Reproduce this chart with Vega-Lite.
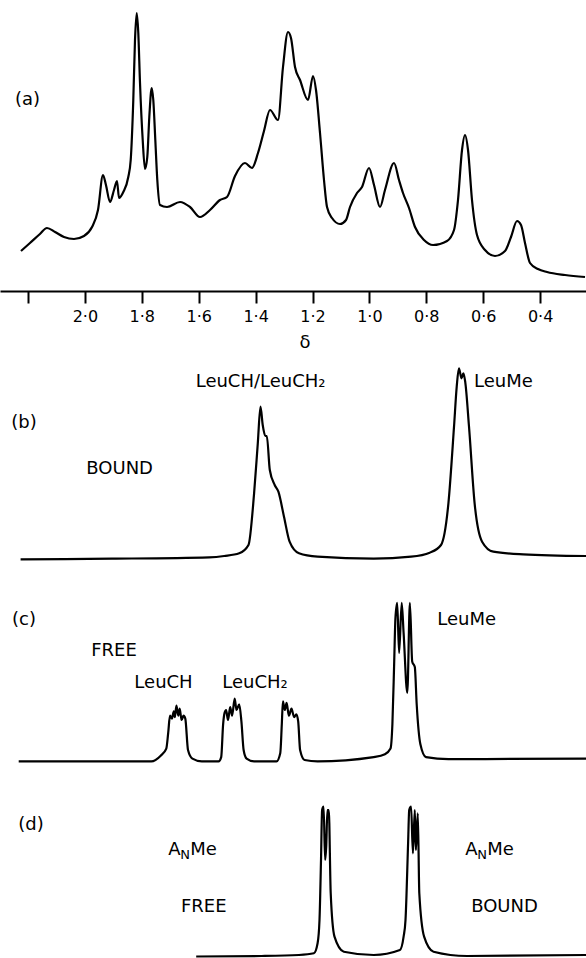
{
  "$schema": "https://vega.github.io/schema/vega-lite/v6.json",
  "padding": 0,
  "spacing": 0,
  "bounds": "flush",
  "background": "white",
  "config": {
    "view": {"stroke": null},
    "text": {"font": "DejaVu Sans", "fontSize": 18, "color": "black", "fill": "black", "baseline": "middle"},
    "line": {"color": "black", "strokeWidth": 2.2, "interpolate": "monotone"}
  },
  "resolve": {"scale": {"x": "independent", "y": "independent"}},
  "datasets": {
    "a": [
      {"d":2.2246,"i":40},{"d":2.193,"i":48},{"d":2.158,"i":57},{"d":2.1333,"i":63},{"d":2.105,"i":59},{"d":2.0735,"i":54},{"d":2.0383,"i":52},{"d":2.0032,"i":55},{"d":1.975,"i":64},{"d":1.954,"i":81},{"d":1.9364,"i":116},{"d":1.926,"i":106},{"d":1.9118,"i":89},{"d":1.8977,"i":101},{"d":1.8872,"i":110},{"d":1.88,"i":93},{"d":1.865,"i":99},{"d":1.8475,"i":114},{"d":1.839,"i":131},{"d":1.8299,"i":191},{"d":1.8239,"i":251},{"d":1.8179,"i":278},{"d":1.8123,"i":258},{"d":1.8063,"i":208},{"d":1.7968,"i":151},{"d":1.7888,"i":122},{"d":1.7807,"i":134},{"d":1.7736,"i":174},{"d":1.7652,"i":203},{"d":1.7596,"i":191},{"d":1.7525,"i":151},{"d":1.7455,"i":111},{"d":1.736,"i":86},{"d":1.7114,"i":84},{"d":1.6657,"i":89},{"d":1.6306,"i":84},{"d":1.5954,"i":74},{"d":1.5603,"i":81},{"d":1.5251,"i":91},{"d":1.5005,"i":94},{"d":1.4724,"i":115},{"d":1.4373,"i":128},{"d":1.4127,"i":123},{"d":1.3916,"i":138},{"d":1.3705,"i":160},{"d":1.3494,"i":181},{"d":1.3213,"i":171},{"d":1.3037,"i":224},{"d":1.2861,"i":259},{"d":1.2756,"i":253},{"d":1.2615,"i":224},{"d":1.2439,"i":211},{"d":1.2158,"i":191},{"d":1.1982,"i":215},{"d":1.1877,"i":201},{"d":1.1736,"i":158},{"d":1.1596,"i":111},{"d":1.149,"i":84},{"d":1.1315,"i":73},{"d":1.1033,"i":67},{"d":1.0822,"i":71},{"d":1.0682,"i":84},{"d":1.0436,"i":98},{"d":1.026,"i":104},{"d":1.0014,"i":123},{"d":0.9838,"i":106},{"d":0.9627,"i":84},{"d":0.9452,"i":101},{"d":0.9135,"i":128},{"d":0.896,"i":111},{"d":0.8819,"i":98},{"d":0.8608,"i":83},{"d":0.8397,"i":64},{"d":0.8081,"i":51},{"d":0.7764,"i":46},{"d":0.7272,"i":50},{"d":0.7026,"i":61},{"d":0.6886,"i":91},{"d":0.6745,"i":141},{"d":0.664,"i":156},{"d":0.6534,"i":141},{"d":0.6394,"i":91},{"d":0.6218,"i":56},{"d":0.5937,"i":41},{"d":0.5585,"i":35},{"d":0.5234,"i":40},{"d":0.5023,"i":54},{"d":0.4812,"i":70},{"d":0.4671,"i":66},{"d":0.4531,"i":48},{"d":0.4355,"i":28},{"d":0.4074,"i":22},{"d":0.3757,"i":19},{"d":0.3125,"i":16},{"d":0.2422,"i":14}
    ],
    "b": [
      {"d":2.226,"i":2.7},{"d":1.9044,"i":3.3},{"d":1.5627,"i":4.7},{"d":1.5104,"i":6},{"d":1.4576,"i":8.7},{"d":1.425,"i":17},{"d":1.4053,"i":68.7},{"d":1.3923,"i":118.7},{"d":1.3828,"i":155.3},{"d":1.375,"i":137},{"d":1.3659,"i":126},{"d":1.3606,"i":126},{"d":1.3501,"i":92},{"d":1.3329,"i":77},{"d":1.3199,"i":70.3},{"d":1.3002,"i":45.3},{"d":1.2805,"i":20.3},{"d":1.2475,"i":8.7},{"d":1.1821,"i":5.3},{"d":0.9849,"i":3.3},{"d":0.8534,"i":5.3},{"d":0.788,"i":9.3},{"d":0.7483,"i":17},{"d":0.7223,"i":58.7},{"d":0.7026,"i":135.3},{"d":0.6931,"i":175.3},{"d":0.6854,"i":193.7},{"d":0.6762,"i":183.7},{"d":0.6696,"i":188.7},{"d":0.6633,"i":180.3},{"d":0.6499,"i":135.3},{"d":0.6302,"i":58.7},{"d":0.6039,"i":20.3},{"d":0.5645,"i":10.3},{"d":0.4594,"i":7.7},{"d":0.2387,"i":6}
    ],
    "c": [
      {"d":2.2327,"i":3.6},{"d":1.9044,"i":3.6},{"d":1.7666,"i":3.6},{"d":1.7336,"i":9.3},{"d":1.7139,"i":16.4},{"d":1.7072,"i":32.1},{"d":1.7009,"i":49.3},{"d":1.6942,"i":46.4},{"d":1.6875,"i":53.6},{"d":1.6837,"i":47.9},{"d":1.6784,"i":59.3},{"d":1.6717,"i":49.3},{"d":1.6668,"i":56.4},{"d":1.6601,"i":45},{"d":1.6534,"i":49.3},{"d":1.6471,"i":46.4},{"d":1.6376,"i":15},{"d":1.6221,"i":6.4},{"d":1.589,"i":3.6},{"d":1.5301,"i":3.6},{"d":1.5209,"i":7.9},{"d":1.5142,"i":40.7},{"d":1.509,"i":52.1},{"d":1.5037,"i":55},{"d":1.497,"i":45},{"d":1.4893,"i":57.9},{"d":1.4826,"i":49.3},{"d":1.4735,"i":66.4},{"d":1.4671,"i":55},{"d":1.4576,"i":60.7},{"d":1.4499,"i":43.6},{"d":1.4421,"i":15},{"d":1.4316,"i":6.4},{"d":1.4053,"i":3.6},{"d":1.3265,"i":3.6},{"d":1.3132,"i":12.1},{"d":1.3079,"i":40.7},{"d":1.304,"i":63.6},{"d":1.2974,"i":55},{"d":1.291,"i":62.1},{"d":1.283,"i":49.3},{"d":1.2738,"i":56.4},{"d":1.2647,"i":47.9},{"d":1.2569,"i":50.7},{"d":1.2503,"i":43.6},{"d":1.2436,"i":15},{"d":1.2278,"i":5},{"d":1.1821,"i":3.6},{"d":0.9849,"i":7.9},{"d":0.9455,"i":10.7},{"d":0.9258,"i":16.4},{"d":0.9192,"i":40.7},{"d":0.9128,"i":103.6},{"d":0.9086,"i":146.4},{"d":0.9023,"i":162.1},{"d":0.8956,"i":112.1},{"d":0.8865,"i":162.1},{"d":0.8798,"i":132.1},{"d":0.8668,"i":72.1},{"d":0.8577,"i":162.1},{"d":0.8496,"i":103.6},{"d":0.8404,"i":97.9},{"d":0.8338,"i":60.7},{"d":0.8208,"i":20.7},{"d":0.8011,"i":7.9},{"d":0.7223,"i":5.9},{"d":0.2387,"i":6.4}
    ],
    "d": [
      {"d":1.6088,"i":1.5},{"d":1.3789,"i":2},{"d":1.2475,"i":3},{"d":1.1951,"i":4.7},{"d":1.1821,"i":14.7},{"d":1.1754,"i":38},{"d":1.1701,"i":98},{"d":1.1662,"i":148},{"d":1.161,"i":151.3},{"d":1.1557,"i":98},{"d":1.1518,"i":111.3},{"d":1.1476,"i":148},{"d":1.1427,"i":148},{"d":1.136,"i":64.7},{"d":1.1227,"i":21.3},{"d":1.09,"i":6.3},{"d":0.9849,"i":3},{"d":0.8928,"i":8},{"d":0.8798,"i":21.3},{"d":0.8731,"i":38},{"d":0.864,"i":114.7},{"d":0.8601,"i":148},{"d":0.8534,"i":151.3},{"d":0.8471,"i":104.7},{"d":0.8404,"i":148},{"d":0.8366,"i":108},{"d":0.8299,"i":144.7},{"d":0.8246,"i":64.7},{"d":0.8077,"i":21.3},{"d":0.7747,"i":6.3},{"d":0.6566,"i":2},{"d":0.2387,"i":3}
    ],
    "a_text": [{"label":"(a)","d":2.2018,"i":191.5},{"label":"δ","d":1.2264,"i":-52}],
    "b_text_c": [{"label":"(b)","d":2.214,"i":138.7},{"label":"BOUND","d":1.878,"i":92.7},{"label":"LeuCH/LeuCH₂","d":1.3824,"i":180.3}],
    "b_text_l": [{"label":"LeuMe","d":0.6323,"i":180.3}],
    "c_text_c": [{"label":"(c)","d":2.214,"i":145},{"label":"FREE","d":1.8977,"i":114.4},{"label":"LeuCH","d":1.7237,"i":82.1},{"label":"LeuCH₂","d":1.4021,"i":82.1}],
    "c_text_l": [{"label":"LeuMe","d":0.7617,"i":145}],
    "d_text_c": [{"label":"(d)","d":2.1895,"i":133},{"label":"FREE","d":1.5824,"i":51},{"label":"BOUND","d":0.5251,"i":51}],
    "d_anme": [{"d":1.7069,"i":108},{"d":0.6633,"i":108}]
  },
  "vconcat": [
    {
      "width": 586, "height": 291,
      "layer": [
        {
          "data": {"name": "a"},
          "mark": {"type": "line"},
          "encoding": {
            "x": {"field": "d", "type": "quantitative", "scale": {"domain": [2.2984, 0.2387], "nice": false, "zero": false},
              "axis": {
                "values": [2.2,2.1,2.0,1.9,1.8,1.7,1.6,1.5,1.4,1.3,1.2,1.1,1.0,0.9,0.8,0.7,0.6,0.5,0.4,0.3],
                "labelExpr": "datum.value < 2.05 && round(datum.value*10) % 2 == 0 ? replace(format(datum.value, '.1f'), '.', '·') : ''",
                "title": null, "grid": false,
                "domainColor": "black", "domainWidth": 2,
                "tickColor": "black", "tickWidth": 2,
                "tickSize": {"condition": {"test": "round(datum.value*10) % 2 == 0", "value": 12}, "value": 6},
                "labelFont": "DejaVu Sans", "labelFontSize": 16, "labelColor": "black",
                "labelPadding": 5, "labelFlush": false, "labelOverlap": false, "labelBound": false
              }},
            "y": {"field": "i", "type": "quantitative", "scale": {"domain": [0, 291], "nice": false, "zero": false}, "axis": null}
          }
        },
        {
          "data": {"name": "a_text"},
          "mark": {"type": "text", "align": "center", "color": "black"},
          "encoding": {
            "x": {"field": "d", "type": "quantitative"},
            "y": {"field": "i", "type": "quantitative", "axis": null},
            "text": {"field": "label"}
          }
        }
      ]
    },
    {
      "width": 586, "height": 271,
      "layer": [
        {
          "data": {"name": "b"},
          "mark": {"type": "line"},
          "encoding": {
            "x": {"field": "d", "type": "quantitative", "scale": {"domain": [2.2984, 0.2387], "nice": false, "zero": false}, "axis": null},
            "y": {"field": "i", "type": "quantitative", "scale": {"domain": [0, 271], "nice": false, "zero": false}, "axis": null}
          }
        },
        {
          "data": {"name": "b_text_c"},
          "mark": {"type": "text", "align": "center", "color": "black"},
          "encoding": {
            "x": {"field": "d", "type": "quantitative", "axis": null},
            "y": {"field": "i", "type": "quantitative", "axis": null},
            "text": {"field": "label"}
          }
        },
        {
          "data": {"name": "b_text_l"},
          "mark": {"type": "text", "align": "left", "color": "black"},
          "encoding": {
            "x": {"field": "d", "type": "quantitative", "axis": null},
            "y": {"field": "i", "type": "quantitative", "axis": null},
            "text": {"field": "label"}
          }
        }
      ]
    },
    {
      "width": 586, "height": 203,
      "layer": [
        {
          "data": {"name": "c"},
          "mark": {"type": "line"},
          "encoding": {
            "x": {"field": "d", "type": "quantitative", "scale": {"domain": [2.2984, 0.2387], "nice": false, "zero": false}, "axis": null},
            "y": {"field": "i", "type": "quantitative", "scale": {"domain": [0, 203], "nice": false, "zero": false}, "axis": null}
          }
        },
        {
          "data": {"name": "c_text_c"},
          "mark": {"type": "text", "align": "center", "color": "black"},
          "encoding": {
            "x": {"field": "d", "type": "quantitative", "axis": null},
            "y": {"field": "i", "type": "quantitative", "axis": null},
            "text": {"field": "label"}
          }
        },
        {
          "data": {"name": "c_text_l"},
          "mark": {"type": "text", "align": "left", "color": "black"},
          "encoding": {
            "x": {"field": "d", "type": "quantitative", "axis": null},
            "y": {"field": "i", "type": "quantitative", "axis": null},
            "text": {"field": "label"}
          }
        }
      ]
    },
    {
      "width": 586, "height": 193,
      "layer": [
        {
          "data": {"name": "d"},
          "mark": {"type": "line"},
          "encoding": {
            "x": {"field": "d", "type": "quantitative", "scale": {"domain": [2.2984, 0.2387], "nice": false, "zero": false}, "axis": null},
            "y": {"field": "i", "type": "quantitative", "scale": {"domain": [0, 193], "nice": false, "zero": false}, "axis": null}
          }
        },
        {
          "data": {"name": "d_text_c"},
          "mark": {"type": "text", "align": "center", "color": "black"},
          "encoding": {
            "x": {"field": "d", "type": "quantitative", "axis": null},
            "y": {"field": "i", "type": "quantitative", "axis": null},
            "text": {"field": "label"}
          }
        },
        {
          "data": {"name": "d_anme"},
          "mark": {"type": "text", "align": "left", "color": "black"},
          "encoding": {
            "x": {"field": "d", "type": "quantitative", "axis": null},
            "y": {"field": "i", "type": "quantitative", "axis": null},
            "text": {"value": "A"}
          }
        },
        {
          "data": {"name": "d_anme"},
          "mark": {"type": "text", "align": "left", "fontSize": 13, "dx": 12, "dy": 5, "color": "black"},
          "encoding": {
            "x": {"field": "d", "type": "quantitative", "axis": null},
            "y": {"field": "i", "type": "quantitative", "axis": null},
            "text": {"value": "N"}
          }
        },
        {
          "data": {"name": "d_anme"},
          "mark": {"type": "text", "align": "left", "dx": 22, "color": "black"},
          "encoding": {
            "x": {"field": "d", "type": "quantitative", "axis": null},
            "y": {"field": "i", "type": "quantitative", "axis": null},
            "text": {"value": "Me"}
          }
        }
      ]
    }
  ]
}
